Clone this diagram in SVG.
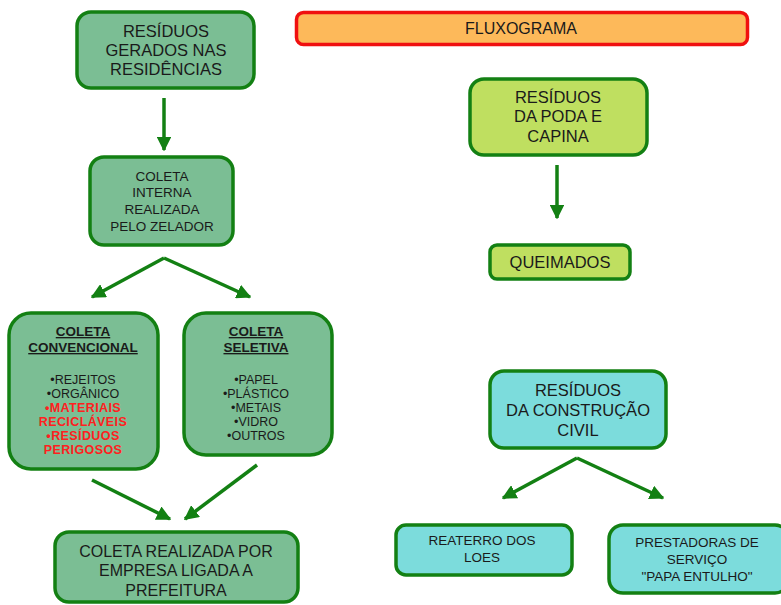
<svg xmlns="http://www.w3.org/2000/svg" width="781" height="605" viewBox="0 0 781 605">
<style>
text{font-family:"Liberation Sans",Arial,sans-serif;fill:#1a1a1a;text-anchor:middle}
.box{stroke:#138013;stroke-width:3.5}
.g{fill:#7BBE94}
.l{fill:#BFDF60}
.c{fill:#7CDCDC}
.f16{font-size:16.5px}
.f15{font-size:16px}
.f13{font-size:13.5px}
.f12{font-size:12.5px}
.b{font-weight:bold;text-decoration:underline}
.red{fill:#ff2020;font-weight:bold;letter-spacing:0.4px}
.con{stroke:#138013;stroke-width:3.5;fill:none;marker-end:url(#ah)}
</style>
<defs>
<marker id="ah" viewBox="0 0 10 10" refX="9" refY="5" markerWidth="4.2" markerHeight="4.2" orient="auto" markerUnits="strokeWidth">
<path d="M0,0 L10,5 L0,10 z" fill="#138013"/>
</marker>
</defs>
<rect width="781" height="605" fill="#fff"/>

<g id="connectors">
<line class="con" x1="164" y1="98" x2="164" y2="150"/>
<line class="con" x1="164" y1="258" x2="92" y2="297"/>
<line class="con" x1="164" y1="258" x2="250" y2="297"/>
<line class="con" x1="92" y1="480" x2="170" y2="519"/>
<line class="con" x1="257" y1="465" x2="185" y2="519"/>
<line class="con" x1="557" y1="165" x2="557" y2="218"/>
<line class="con" x1="577" y1="458" x2="503" y2="498"/>
<line class="con" x1="577" y1="458" x2="663" y2="498"/>
</g>

<g id="titulo">
<rect x="296.5" y="12.5" width="451" height="32" rx="7" fill="#FDB95A" stroke="#F01010" stroke-width="3.5"/>
<text class="f15" x="521" y="34">FLUXOGRAMA</text>
</g>

<g id="residencias">
<rect class="box g" x="77" y="12" width="177" height="76" rx="14"/>
<text class="f16" x="166" y="37">RESÍDUOS</text>
<text class="f16" x="166" y="56">GERADOS  NAS</text>
<text class="f16" x="166" y="75">RESIDÊNCIAS</text>
</g>

<g id="coleta-interna">
<rect class="box g" x="90" y="157" width="143" height="88" rx="14"/>
<text class="f13" x="162" y="181">COLETA</text>
<text class="f13" x="162" y="197">INTERNA</text>
<text class="f13" x="162" y="214">REALIZADA</text>
<text class="f13" x="162" y="231">PELO ZELADOR</text>
</g>

<g id="coleta-convencional">
<rect class="box g" x="9" y="313" width="149" height="156" rx="22"/>
<text class="f13 b" x="83" y="336">COLETA</text>
<text class="f13 b" x="83" y="352">CONVENCIONAL</text>
<text class="f12" x="83" y="384">•REJEITOS</text>
<text class="f12" x="83" y="398">•ORGÂNICO</text>
<text class="f12 red" x="83" y="412">•MATERIAIS</text>
<text class="f12 red" x="83" y="426">RECICLÁVEIS</text>
<text class="f12 red" x="83" y="440">•RESÍDUOS</text>
<text class="f12 red" x="83" y="454">PERIGOSOS</text>
</g>

<g id="coleta-seletiva">
<rect class="box g" x="184" y="313" width="148" height="142" rx="22"/>
<text class="f13 b" x="256" y="336">COLETA</text>
<text class="f13 b" x="256" y="352">SELETIVA</text>
<text class="f12" x="256" y="384">•PAPEL</text>
<text class="f12" x="256" y="398">•PLÁSTICO</text>
<text class="f12" x="256" y="412">•METAIS</text>
<text class="f12" x="256" y="426">•VIDRO</text>
<text class="f12" x="256" y="440">•OUTROS</text>
</g>

<g id="empresa">
<rect class="box g" x="55" y="532" width="243" height="70" rx="14"/>
<text class="f15" x="176" y="557">COLETA REALIZADA POR</text>
<text class="f15" x="176" y="576">EMPRESA LIGADA A</text>
<text class="f15" x="176" y="596">PREFEITURA</text>
</g>

<g id="poda">
<rect class="box l" x="470" y="79" width="177" height="76" rx="14"/>
<text class="f16" x="558" y="103">RESÍDUOS</text>
<text class="f16" x="558" y="122">DA PODA E</text>
<text class="f16" x="558" y="142">CAPINA</text>
</g>

<g id="queimados">
<rect class="box l" x="490" y="245" width="140" height="34" rx="7"/>
<text class="f16" x="560" y="268">QUEIMADOS</text>
</g>

<g id="construcao">
<rect class="box c" x="490" y="371" width="176" height="77" rx="14"/>
<text class="f16" x="578" y="396">RESÍDUOS</text>
<text class="f16" x="578" y="416">DA CONSTRUÇÃO</text>
<text class="f16" x="578" y="436">CIVIL</text>
</g>

<g id="reaterro">
<rect class="box c" x="396" y="525" width="176" height="50" rx="10"/>
<text class="f13" x="482" y="545">REATERRO DOS</text>
<text class="f13" x="482" y="562">LOES</text>
</g>

<g id="prestadoras">
<rect class="box c" x="609" y="525" width="180" height="68" rx="14"/>
<text class="f13" x="697" y="547">PRESTADORAS DE</text>
<text class="f13" x="697" y="564">SERVIÇO</text>
<text class="f13" x="697" y="581">"PAPA ENTULHO"</text>
</g>
</svg>
